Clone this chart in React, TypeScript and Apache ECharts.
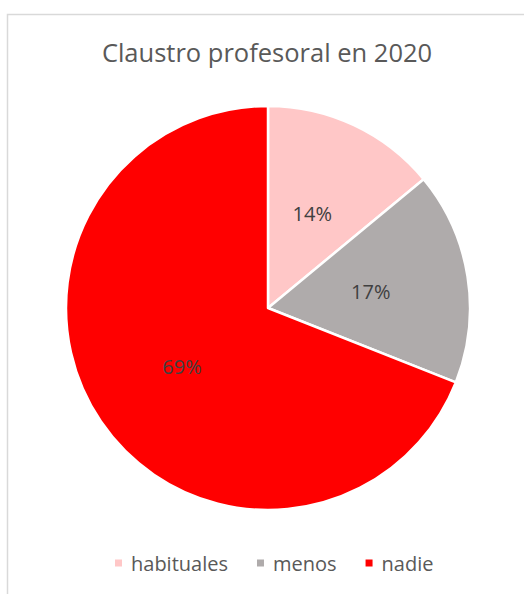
import React, { useEffect, useRef } from "react";
import * as echarts from "echarts";

const titleText = "Claustro profesoral en 2020";
const categories = ["habituales", "menos", "nadie"];
const values = [14, 17, 69];
const colors = ["#FFC7C7", "#AFABAB", "#FF0000"];

export default function App() {
  const ref = useRef<HTMLDivElement>(null);
  useEffect(() => {
    if (!ref.current) return;
    const chart = echarts.init(ref.current, null, { renderer: "svg" });
    const font = "'Open Sans', 'Noto Sans', sans-serif";
    chart.setOption({
      animation: false,
      backgroundColor: "#ffffff",
      title: {
        text: titleText,
        left: 262,
        textAlign: "center",
        top: 34,
        textStyle: { fontFamily: font, fontSize: 25.5, fontWeight: "normal", color: "#595959" },
      },
      legend: {
        data: categories,
        bottom: 16,
        left: 108,
        itemWidth: 9,
        itemHeight: 9,
        itemGap: 27,
        icon: "rect",
        textStyle: { fontFamily: font, fontSize: 20, color: "#595959", padding: [0, 0, 0, 3] },
      },
      graphic: [
        {
          type: "rect",
          shape: { x: 7.5, y: 14.5, width: 700, height: 800 },
          style: { fill: "none", stroke: "#D9D9D9", lineWidth: 1.5 },
          silent: true,
        },
      ],
      series: [
        {
          type: "pie",
          center: [268, 308],
          radius: 202,
          startAngle: 90,
          clockwise: true,
          data: categories.map((name, i) => ({
            name,
            value: values[i],
            itemStyle: { color: colors[i] },
          })),
          itemStyle: { borderColor: "#ffffff", borderWidth: 2.5 },
          label: {
            show: true,
            position: "inside",
            formatter: (p: any) => `${Math.round(p.percent)}%`,
            fontFamily: font,
            fontSize: 20,
            color: "#404040",
          },
          labelLine: { show: false },
          emphasis: { disabled: true },
        },
      ],
    });
    return () => chart.dispose();
  }, []);
  return (
    <div
      ref={ref}
      style={{ position: "fixed", left: 0, top: 0, width: 524, height: 594 }}
    />
  );
}
